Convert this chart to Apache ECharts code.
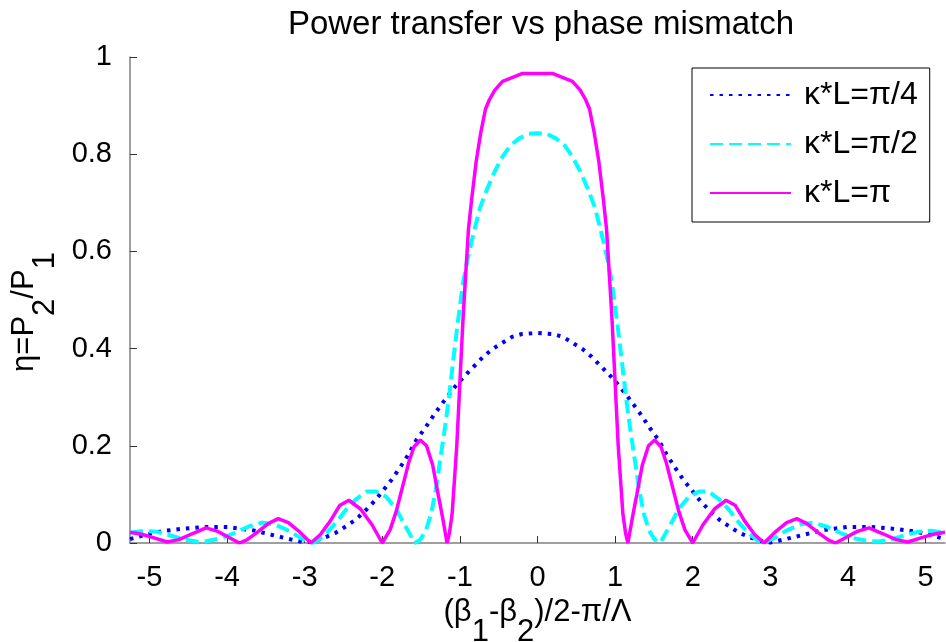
<!DOCTYPE html>
<html>
<head>
<meta charset="utf-8">
<script src="https://cdn.jsdelivr.net/npm/echarts@6/dist/echarts.min.js"></script>
<style>
html,body{margin:0;padding:0;background:#fff;}
#chart{width:946px;height:642px;}
</style>
</head>
<body>
<div id="chart"></div>
<script>
// tick labels
var xTicks = [-5, -4, -3, -2, -1, 0, 1, 2, 3, 4, 5];
var yTicks = [0, 0.2, 0.4, 0.6, 0.8, 1];

// kappa*L = pi/4
var xQuarter = [-5.25,-5.05,-4.85,-4.6,-4.3,-3.99,-3.66,-3.43,-3.17,-3.0,-2.86,-2.73,-2.6,-2.47,-2.35,-2.22,-2.09,-1.99,-1.88,-1.76,-1.66,-1.56,-1.45,-1.32,-1.2,-1.06,-0.95,-0.84,-0.7,-0.58,-0.45,-0.33,-0.2,
	0,0.2,0.33,0.45,0.58,0.7,0.84,0.95,1.06,1.2,1.32,1.45,1.56,1.66,1.76,1.88,1.99,2.09,2.22,2.35,2.47,2.6,2.73,2.86,3.0,3.17,3.43,3.66,3.99,4.3,4.6,4.85,5.05,5.25];
var yQuarter = [0.008,0.017,0.024,0.029,0.033,0.033,0.026,0.017,0.007,0.001,0.005,0.012,0.021,0.034,0.047,0.066,0.088,0.108,0.13,0.158,0.183,0.212,0.236,0.267,0.293,0.322,0.342,0.36,0.383,0.399,0.412,0.424,0.43,
	0.432,0.43,0.424,0.412,0.399,0.383,0.36,0.342,0.322,0.293,0.267,0.236,0.212,0.183,0.158,0.13,0.108,0.088,0.066,0.047,0.034,0.021,0.012,0.005,0.001,0.007,0.017,0.026,0.033,0.033,0.029,0.024,0.017,0.008];

// kappa*L = pi/2
var xHalf = [-5.25,-5.06,-4.9,-4.74,-4.57,-4.4,-4.25,-4.07,-3.9,-3.72,-3.55,-3.38,-3.2,-3.05,-2.9,-2.84,-2.72,-2.59,-2.46,-2.33,-2.2,-2.08,-1.95,-1.82,-1.7,-1.58,-1.51,-1.44,-1.37,-1.31,-1.25,-1.19,-1.14,-1.09,-1.03,-0.96,-0.9,-0.82,-0.74,-0.65,-0.55,-0.45,-0.35,-0.24,-0.12,
	0,0.12,0.24,0.35,0.45,0.55,0.65,0.74,0.82,0.9,0.96,1.03,1.09,1.14,1.19,1.25,1.31,1.37,1.44,1.51,1.58,1.7,1.82,1.95,2.08,2.2,2.33,2.46,2.59,2.72,2.84,2.9,3.05,3.2,3.38,3.55,3.72,3.9,4.07,4.25,4.4,4.57,4.74,4.9,5.06,5.25];
var yHalf = [0.021,0.025,0.023,0.016,0.008,0.003,0.004,0.01,0.021,0.034,0.042,0.038,0.025,0.01,0,0.005,0.02,0.043,0.07,0.091,0.106,0.106,0.095,0.07,0.034,0,0.007,0.025,0.06,0.11,0.175,0.24,0.3,0.37,0.45,0.535,0.585,0.64,0.69,0.728,0.765,0.795,0.818,0.832,0.842,
	0.843,0.842,0.832,0.818,0.795,0.765,0.728,0.69,0.64,0.585,0.535,0.45,0.37,0.3,0.24,0.175,0.11,0.06,0.025,0.007,0,0.034,0.07,0.095,0.106,0.106,0.091,0.07,0.043,0.02,0.005,0,0.01,0.025,0.038,0.042,0.034,0.021,0.01,0.004,0.003,0.008,0.016,0.023,0.025,0.021];

// kappa*L = pi
var xFull = [-5.25,-5.1,-4.95,-4.77,-4.62,-4.45,-4.27,-4.12,-3.98,-3.84,-3.75,-3.62,-3.47,-3.34,-3.21,-3.08,-2.92,-2.8,-2.67,-2.55,-2.43,-2.28,-2.13,-2.0,-1.9,-1.82,-1.74,-1.66,-1.59,-1.51,-1.43,-1.35,-1.28,-1.22,-1.165,-1.135,-1.1,-1.07,-1.04,-1.0,-0.96,-0.93,-0.89,-0.85,-0.79,-0.73,-0.67,-0.62,-0.55,-0.45,-0.32,-0.2,
	0,0.2,0.32,0.45,0.55,0.62,0.67,0.73,0.79,0.85,0.89,0.93,0.96,1.0,1.04,1.07,1.1,1.135,1.165,1.22,1.28,1.35,1.43,1.51,1.59,1.66,1.74,1.82,1.9,2.0,2.13,2.28,2.43,2.55,2.67,2.8,2.92,3.08,3.21,3.34,3.47,3.62,3.75,3.84,3.98,4.12,4.27,4.45,4.62,4.77,4.95,5.1,5.25];
var yFull = [0.022,0.018,0.011,0.002,0.007,0.019,0.031,0.024,0.012,0,0.006,0.021,0.04,0.05,0.042,0.025,0,0.017,0.045,0.077,0.088,0.07,0.037,0,0.027,0.065,0.115,0.165,0.198,0.212,0.2,0.16,0.1,0.05,0,0.02,0.06,0.13,0.2,0.33,0.46,0.54,0.645,0.705,0.785,0.845,0.893,0.912,0.932,0.95,0.958,0.966,
	0.966,0.966,0.958,0.95,0.932,0.912,0.893,0.845,0.785,0.705,0.645,0.54,0.46,0.33,0.2,0.13,0.06,0.02,0,0.05,0.1,0.16,0.2,0.212,0.198,0.165,0.115,0.065,0.027,0,0.037,0.07,0.088,0.077,0.045,0.017,0,0.025,0.042,0.05,0.04,0.021,0.006,0,0.012,0.024,0.031,0.019,0.007,0.002,0.011,0.018,0.022];

var names = ['κ*L=π/4', 'κ*L=π/2', 'κ*L=π'];

function pairs(xs, ys){
	return xs.map(function(x, i){ return [x, ys[i]]; });
}

var font = 'Liberation Sans, Arial, Helvetica, sans-serif';
var subStyle = {fontSize: 31, lineHeight: 30, padding: [20, 0, 0, 0], verticalAlign: 'top', fontFamily: font, color: '#000'};
var chart = echarts.init(document.getElementById('chart'), null, {renderer: 'canvas'});
chart.setOption({
	animation: false,
	backgroundColor: '#fff',
	textStyle: {fontFamily: font, color: '#000'},
	title: {
		text: 'Power transfer vs phase mismatch',
		left: 536,
		textAlign: 'center',
		top: 3,
		textStyle: {fontSize: 33, fontWeight: 'normal', color: '#000', fontFamily: font}
	},
	legend: {
		orient: 'vertical',
		left: 692,
		top: 68,
		padding: [11, 12, 13, 17],
		itemGap: 17,
		itemWidth: 81,
		itemHeight: 10,
		backgroundColor: '#fff',
		borderColor: '#000',
		borderWidth: 1,
		borderRadius: 0,
		itemStyle: {opacity: 0},
		textStyle: {fontSize: 32, lineHeight: 32, color: '#000', fontFamily: font, padding: [0, 0, 0, 8]},
		data: names
	},
	grid: {left: 130, right: 1, top: 57, bottom: 99, containLabel: false, outerBoundsMode: 'none'},
	xAxis: {
		type: 'value',
		min: -5.25,
		max: 5.25,
		name: '(β{s|1}-β{s|2})/2-π/Λ',
		nameLocation: 'middle',
		nameGap: 47,
		nameTextStyle: {fontSize: 31, color: '#000', fontFamily: font, lineHeight: 30, rich: {s: subStyle}},
		splitLine: {show: false},
		axisLine: {show: true, onZero: false, lineStyle: {color: '#808080', width: 1.5}},
		axisTick: {show: true, inside: true, length: 7, customValues: xTicks, lineStyle: {color: '#333'}},
		axisLabel: {customValues: xTicks, fontSize: 29, color: '#000', margin: 20, fontFamily: font}
	},
	yAxis: {
		type: 'value',
		min: 0,
		max: 1,
		interval: 0.2,
		name: 'η=P{s|2}/P{s|1}',
		nameLocation: 'middle',
		nameGap: 87,
		nameRotate: 90,
		nameTextStyle: {fontSize: 31, color: '#000', fontFamily: font, lineHeight: 30, padding: [0, 24, 0, 0], rich: {s: subStyle}},
		splitLine: {show: false},
		axisLine: {show: true, onZero: false, lineStyle: {color: '#808080', width: 1.5}},
		axisTick: {show: true, inside: true, length: 7, lineStyle: {color: '#333'}},
		axisLabel: {fontSize: 29, color: '#000', margin: 18, fontFamily: font,
			formatter: function(v){ return String(Math.round(v * 10) / 10); }}
	},
	series: [
		{
			name: names[0], type: 'line', symbol: 'none', showSymbol: false,
			lineStyle: {color: '#0000ff', width: 4, type: [3.5, 6], cap: 'butt'},
			itemStyle: {color: '#0000ff'},
			data: pairs(xQuarter, yQuarter)
		},
		{
			name: names[1], type: 'line', symbol: 'none', showSymbol: false,
			lineStyle: {color: '#00ffff', width: 4, type: [13, 6], cap: 'butt'},
			itemStyle: {color: '#00ffff'},
			data: pairs(xHalf, yHalf)
		},
		{
			name: names[2], type: 'line', symbol: 'none', showSymbol: false,
			lineStyle: {color: '#ff00ff', width: 3.5},
			itemStyle: {color: '#ff00ff'},
			data: pairs(xFull, yFull)
		}
	]
});
</script>
</body>
</html>
